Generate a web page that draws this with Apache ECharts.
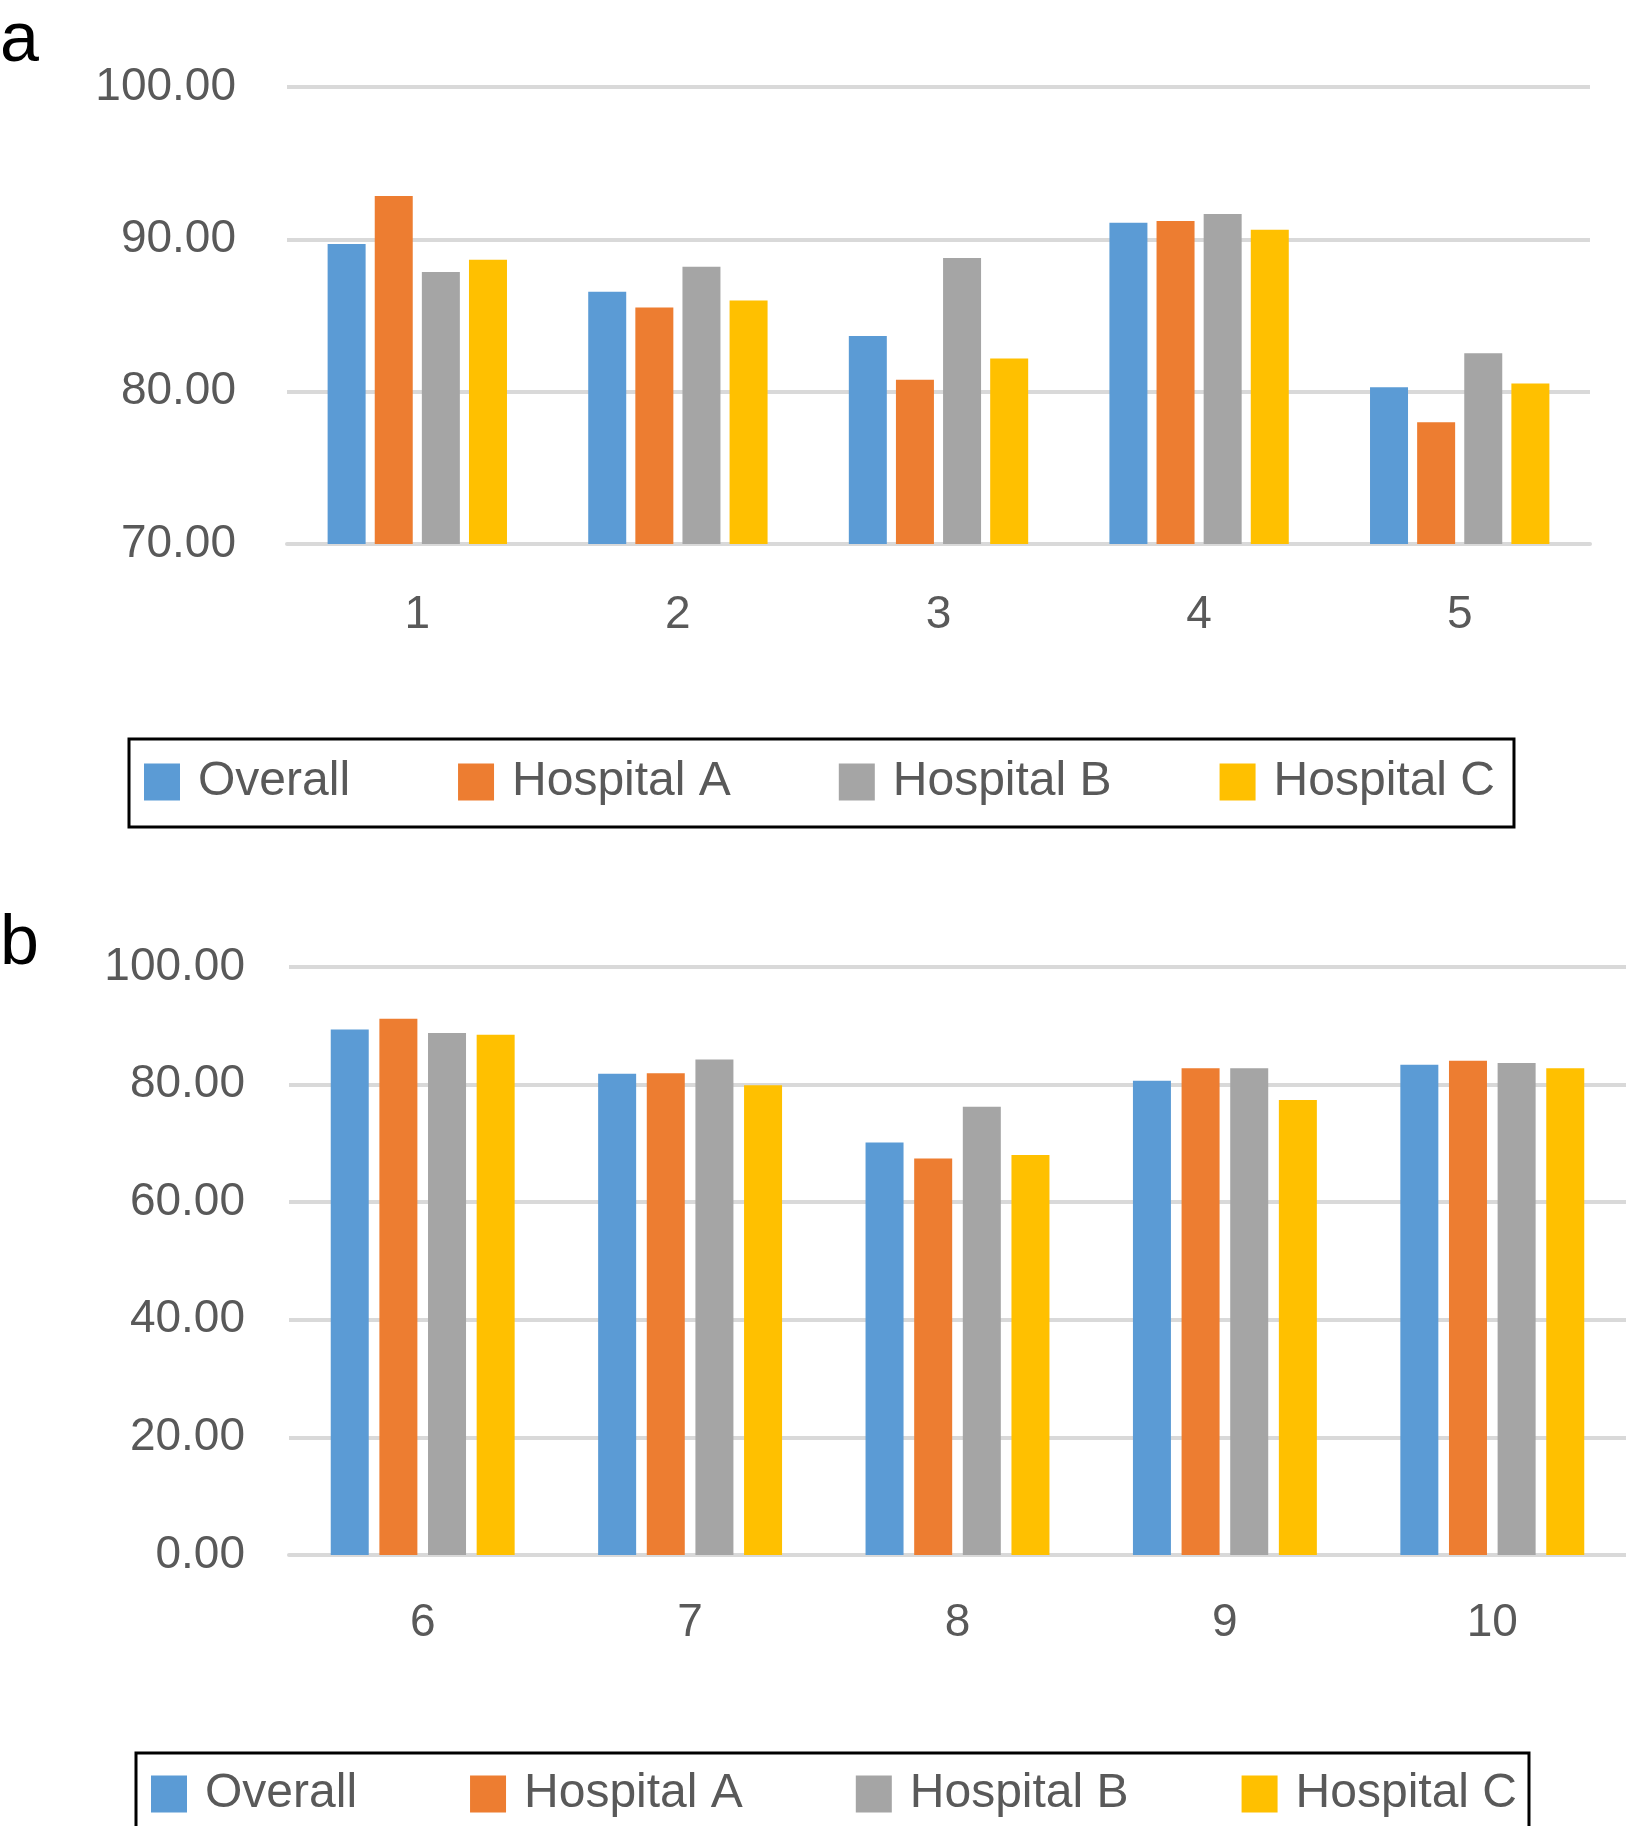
<!DOCTYPE html>
<html>
<head>
<meta charset="utf-8">
<script src="https://cdn.jsdelivr.net/npm/echarts@6/dist/echarts.min.js"></script>
<style>
html,body{margin:0;padding:0;background:#fff;}
#chart{width:1626px;height:1826px;}
</style>
</head>
<body>
<div id="chart"></div>
<script>
// ---- Data ----
const seriesNames = ['Overall', 'Hospital A', 'Hospital B', 'Hospital C'];
const categoriesA = ['1', '2', '3', '4', '5'];
const categoriesB = ['6', '7', '8', '9', '10'];

const overallA   = [89.70, 86.56, 83.65, 91.09, 80.29];
const hospitalAA = [92.84, 85.53, 80.78, 91.20, 78.00];
const hospitalBA = [87.85, 88.20, 88.77, 91.66, 82.53];
const hospitalCA = [88.66, 85.99, 82.17, 90.63, 80.54];

const overallB   = [89.37, 81.85, 70.16, 80.64, 83.37];
const hospitalAB = [91.19, 81.93, 67.43, 82.76, 84.05];
const hospitalBB = [88.76, 84.28, 76.23, 82.76, 83.67];
const hospitalCB = [88.46, 79.88, 68.03, 77.37, 82.76];

const colors = ['#5B9BD5', '#ED7D31', '#A5A5A5', '#FFC000'];

const FONT = '"Liberation Sans", Arial, Helvetica, sans-serif';
const TXT = '#595959';
const GRIDC = '#D9D9D9';

const chart = echarts.init(document.getElementById('chart'), null, {renderer: 'canvas'});

function yAxis(gi, min, max, interval, margin) {
  return {
    type: 'value', gridIndex: gi, min: min, max: max, interval: interval,
    axisLine: {show: false}, axisTick: {show: false},
    axisLabel: {color: TXT, fontSize: 46, fontFamily: FONT, margin: margin,
      formatter: v => v.toFixed(2)},
    splitLine: {show: true, lineStyle: {color: GRIDC, width: 4}}
  };
}
function xAxis(gi, cats, margin) {
  return {
    type: 'category', gridIndex: gi, data: cats,
    axisLine: {show: true, lineStyle: {color: GRIDC, width: 4}},
    axisTick: {show: false},
    axisLabel: {color: TXT, fontSize: 46, fontFamily: FONT, margin: margin}
  };
}
function bars(gi, dataArr, gap) {
  return dataArr.map((d, i) => ({
    name: seriesNames[i], type: 'bar', xAxisIndex: gi, yAxisIndex: gi,
    data: d, barWidth: 38, barGap: gap,
    itemStyle: {color: colors[i]}
  }));
}
function legend(left, top, gap, pad) {
  return {
    data: seriesNames, left: left, top: top, orient: 'horizontal',
    itemWidth: 36, itemHeight: 37, itemGap: gap,
    borderColor: '#000', borderWidth: 3, borderRadius: 0,
    padding: pad,
    icon: 'rect',
    textStyle: {color: TXT, fontSize: 48, fontFamily: FONT, padding: [0, 0, 0, 13]}
  };
}

const option = {
  backgroundColor: '#fff',
  animation: false,
  color: colors,
  title: [
    {text: 'a', left: 0, top: 7, padding: 0, textStyle: {fontSize: 70, fontWeight: 'normal', color: '#000', fontFamily: FONT}},
    {text: 'b', left: 0, top: 910, padding: 0, textStyle: {fontSize: 70, fontWeight: 'normal', color: '#000', fontFamily: FONT}}
  ],
  grid: [
    {left: 287, top: 87, width: 1303, height: 457},
    {left: 289, top: 967, width: 1337, height: 588}
  ],
  xAxis: [xAxis(0, categoriesA, 48), xAxis(1, categoriesB, 45)],
  yAxis: [yAxis(0, 70, 100, 10, 51), yAxis(1, 0, 100, 20, 44)],
  legend: [legend(129, 739, 108, [19, 19, 21, 15]), legend(136, 1753, 113, [17, 12, 20, 15])],
  series: [
    ...bars(0, [overallA, hospitalAA, hospitalBA, hospitalCA], '24%'),
    ...bars(1, [overallB, hospitalAB, hospitalBB, hospitalCB], '28%')
  ]
};
chart.setOption(option);
</script>
</body>
</html>
